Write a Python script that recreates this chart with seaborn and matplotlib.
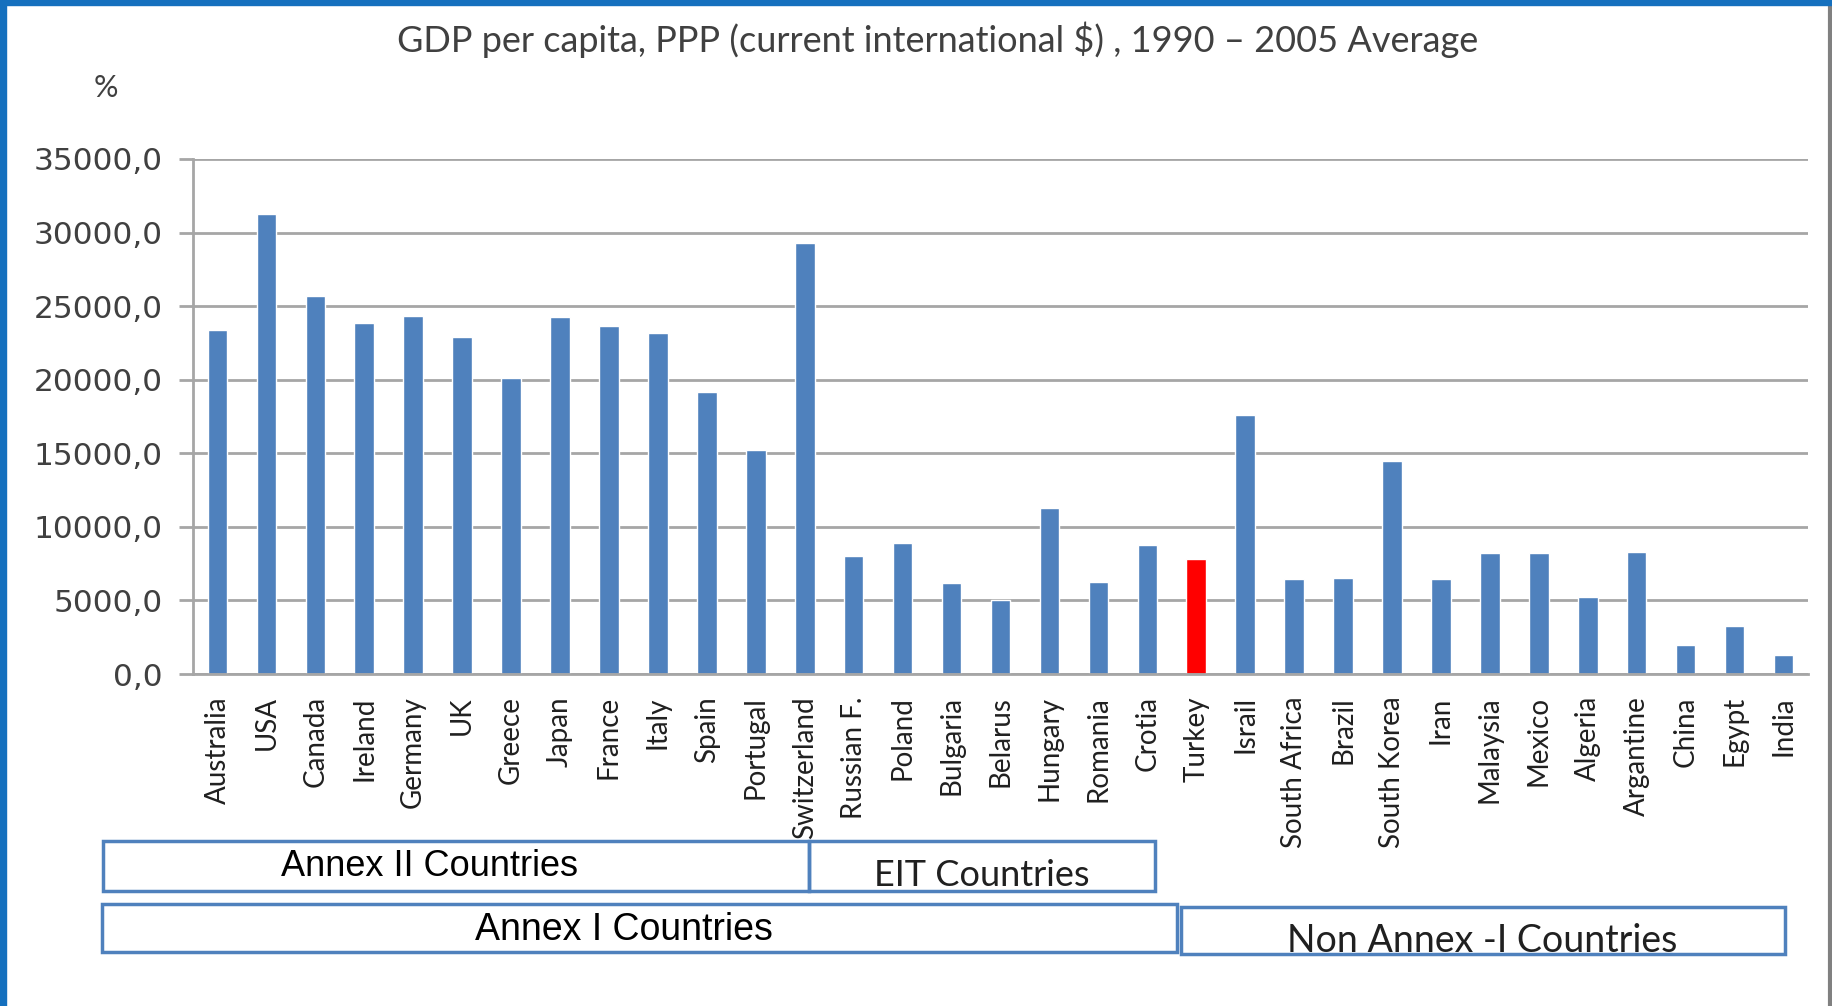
import matplotlib
matplotlib.use("Agg")
import matplotlib.pyplot as plt
import seaborn as sns
import pandas as pd
from matplotlib.patches import Rectangle
from matplotlib.lines import Line2D
from matplotlib.ticker import FuncFormatter, MultipleLocator

countries = ["Australia", "USA", "Canada", "Ireland", "Germany", "UK", "Greece",
             "Japan", "France", "Italy", "Spain", "Portugal", "Switzerland",
             "Russian F.", "Poland", "Bulgaria", "Belarus", "Hungary", "Romania",
             "Crotia", "Turkey", "Israil", "South Africa", "Brazil", "South Korea",
             "Iran", "Malaysia", "Mexico", "Algeria", "Argantine", "China", "Egypt", "India"]
gdp = [23400, 31250, 25700, 23870, 24350, 22890, 20110,
       24250, 23680, 23190, 19180, 15200, 29320,
       8000, 8880, 6200, 5000, 11310, 6250,
       8800, 7820, 17620, 6450, 6540, 14500,
       6450, 8220, 8220, 5200, 8290, 2000, 3240, 1290]
highlight = "Turkey"

title = "GDP per capita, PPP (current international $) , 1990 \u2013 2005 Average"
y_unit = "%"
group_labels = ["Annex II Countries", "EIT Countries", "Annex I Countries", "Non Annex -I Countries"]

BLUE = "#4F81BD"
RED = "#FF0000"
W, H = 1833, 1006

sns.set_theme(style="white")
plt.rcParams["font.family"] = ["DejaVu Sans"]

df = pd.DataFrame({"country": countries, "gdp": gdp})
palette = {c: (RED if c == highlight else BLUE) for c in countries}

fig = plt.figure(figsize=(W / 100, H / 100), dpi=100)
fig.patch.set_facecolor("white")

def fx(px):
    return px / W

def fy(py):
    return 1 - py / H

ax = fig.add_axes([fx(193), fy(674), fx(1808) - fx(193), fy(159) - fy(674)])
sns.barplot(data=df, x="country", y="gdp", hue="country", palette=palette,
            width=0.40, legend=False, ax=ax, saturation=1)
ax.set_xlim(-0.5, len(countries) - 0.5)
ax.set_ylim(0, 35000)
ax.yaxis.set_major_locator(MultipleLocator(5000))
ax.yaxis.set_major_formatter(FuncFormatter(lambda v, p: f"{v:.1f}".replace(".", ",")))
ax.grid(axis="y", color="#A6A6A6", linewidth=2)
ax.set_axisbelow(True)
for s in ["top", "right"]:
    ax.spines[s].set_visible(False)
ax.spines["left"].set_color("#A6A6A6")
ax.spines["left"].set_linewidth(2)
ax.spines["bottom"].set_color("#A6A6A6")
ax.spines["bottom"].set_linewidth(2)
ax.tick_params(axis="y", which="major", left=True, length=10, width=2, color="#A6A6A6",
               labelsize=22.5, labelcolor="#404040", pad=12)
ax.tick_params(axis="x", bottom=False, pad=10)
ax.set_xlabel("")
ax.set_ylabel("")
for lbl in ax.get_xticklabels():
    lbl.set_rotation(90)
    lbl.set_family(["Lato", "DejaVu Sans"])
    lbl.set_fontsize(20)
    lbl.set_color("#202020")

fig.text(fx(938), fy(40), title, ha="center", va="center", fontsize=26,
         color="#404040", family=["Lato", "DejaVu Sans"])
fig.text(fx(106), fy(88), y_unit, ha="center", va="center", fontsize=22,
         color="#404040", family=["Lato", "DejaVu Sans"])

# group boxes (figure pixel coordinates)
boxes = [
    (103, 841, 809, 891),
    (809, 841, 1155, 891),
    (102, 904, 1177, 952),
    (1181, 907, 1785, 954),
]
for (x0, y0, x1, y1) in boxes:
    fig.patches.append(Rectangle((fx(x0), fy(y1)), fx(x1) - fx(x0), fy(y0) - fy(y1),
                                 transform=fig.transFigure, fill=False,
                                 edgecolor=BLUE, linewidth=2.5))

fig.text(fx(430), fy(867), group_labels[0], ha="center", va="center", fontsize=26,
         color="black", family=["Liberation Sans", "DejaVu Sans"])
fig.text(fx(982), fy(875), group_labels[1], ha="center", va="center", fontsize=26,
         color="#202020", family=["Lato", "DejaVu Sans"])
fig.text(fx(624), fy(930), group_labels[2], ha="center", va="center", fontsize=27,
         color="black", family=["Liberation Sans", "DejaVu Sans"])
fig.text(fx(1482), fy(941), group_labels[3], ha="center", va="center", fontsize=27,
         color="#202020", family=["Lato", "DejaVu Sans"])

# frame
fig.patches.append(Rectangle((0, 0), fx(6), 1, transform=fig.transFigure,
                             color="#1570BE", zorder=10))
fig.patches.append(Rectangle((0, fy(5)), 1, 5 / H, transform=fig.transFigure,
                             color="#1570BE", zorder=10))
fig.lines.append(Line2D([fx(1830), fx(1830)], [0, 1], transform=fig.transFigure,
                        color="#808080", linewidth=3))

fig.savefig("out.png", dpi=100, facecolor="white")
